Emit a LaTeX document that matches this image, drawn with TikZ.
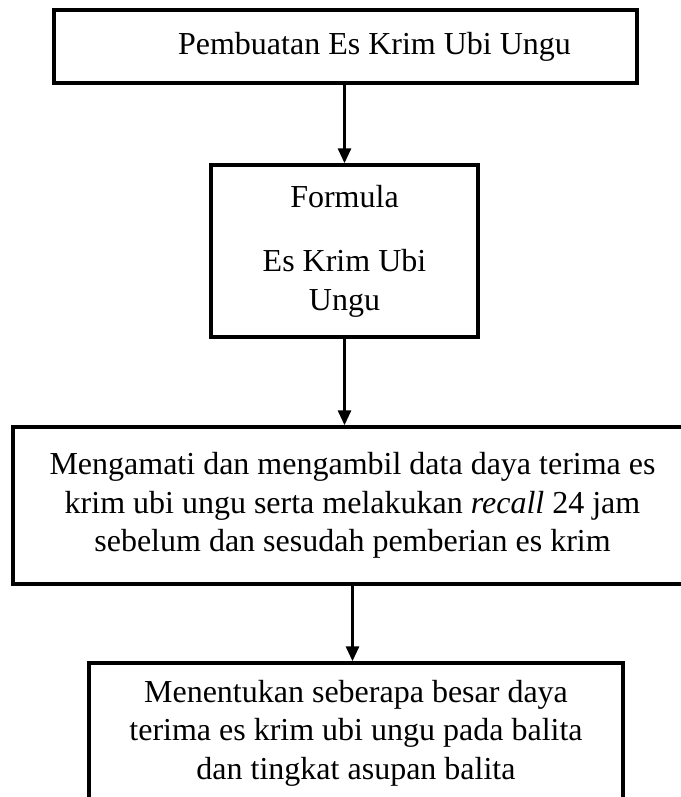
\documentclass[tikz,border=0pt]{standalone}
\usepackage{fontspec}
\setmainfont{Liberation Serif}
\usetikzlibrary{arrows.meta}
\newcommand{\flowfont}{\fontsize{32}{38.5}\selectfont}

\begin{document}
\begin{tikzpicture}[x=1pt,y=-1pt,->,>={Triangle[width=13pt,length=15pt]},line width=3pt,flow box/.style={rectangle,draw,line width=3.5pt,align=center,inner sep=0pt,font=\flowfont}]
  \useasboundingbox (0,0) rectangle (680,797);
  \node[flow box,minimum width=583pt,minimum height=73pt] (pembuatan) at (345.5,46.5) {\hspace*{58pt}Pembuatan Es Krim Ubi Ungu};
  \node[flow box,minimum width=267pt,minimum height=172pt] (formula) at (344.5,251) {Formula\\[26pt]Es Krim Ubi\\Ungu};
  \node[flow box,minimum width=679pt,minimum height=157pt] (mengamati) at (352.5,505.5) {Mengamati dan mengambil data daya terima es\\krim ubi ungu serta melakukan \textit{recall} 24 jam\\sebelum dan sesudah pemberian es krim};
  \node[flow box,minimum width=534pt,minimum height=140pt] (menentukan) at (356,733) {Menentukan seberapa besar daya\\terima es krim ubi ungu pada balita\\dan tingkat asupan balita};

\path
  (formula.north |- pembuatan.south) edge (formula.north)
  (formula.south) edge (formula.south |- mengamati.north)
  (mengamati.south) edge (mengamati.south |- menentukan.north)
;
\end{tikzpicture}
\end{document}
